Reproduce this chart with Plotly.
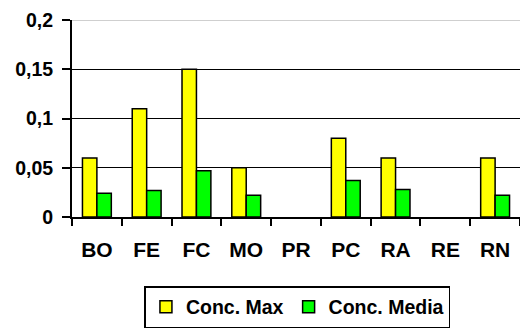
import plotly.graph_objects as go

categories = ["BO", "FE", "FC", "MO", "PR", "PC", "RA", "RE", "RN"]
conc_max = [0.06, 0.11, 0.15, 0.05, None, 0.08, 0.06, None, 0.06]
conc_media = [0.024, 0.027, 0.047, 0.022, None, 0.037, 0.028, None, 0.022]
y_ticks = [0, 0.05, 0.1, 0.15, 0.2]

FONT = "Liberation Sans, Arial, sans-serif"

fig = go.Figure()
fig.add_trace(go.Bar(x=categories, y=conc_max, name="Conc. Max",
                     marker=dict(color="#FFFF00", line=dict(color="black", width=1.5))))
fig.add_trace(go.Bar(x=categories, y=conc_media, name="Conc. Media",
                     marker=dict(color="#00FF00", line=dict(color="black", width=1.5))))

fig.update_layout(
    width=520, height=329,
    margin=dict(l=72, r=0, t=20, b=112),
    paper_bgcolor="white", plot_bgcolor="white",
    separators=",.",
    barmode="group", bargap=0.42, bargroupgap=0,
    font=dict(family=FONT, color="black"),
    showlegend=True,
    legend=dict(orientation="h", xref="container", yref="container",
                x=0.572, xanchor="center", y=1 - 286 / 329, yanchor="top",
                bordercolor="black", borderwidth=1.5, bgcolor="white",
                font=dict(size=19.5, family=FONT, weight="bold"),
                itemwidth=30, tracegroupgap=0),
)
fig.update_xaxes(
    type="category", showline=True, linecolor="black", linewidth=2,
    ticks="outside", ticklen=7, tickwidth=2, tickcolor="black",
    tickson="boundaries", showgrid=False, automargin=False,
    ticklabelstandoff=13,
    tickfont=dict(size=21, family=FONT, weight="bold"),
)
fig.update_yaxes(
    range=[0, 0.2], tickvals=y_ticks, showline=True, linecolor="black", linewidth=2,
    ticks="outside", ticklen=8, tickwidth=2, tickcolor="black",
    showgrid=True, gridcolor="black", gridwidth=1.2, zeroline=False, automargin=False,
    ticklabelstandoff=5,
    tickfont=dict(size=19.5, family=FONT, weight="bold"),
)
fig.add_shape(type="line", xref="paper", yref="y", x0=0, x1=1, y0=y_ticks[-1], y1=y_ticks[-1],
              line=dict(color="#BFBFBF", width=1.5), layer="above")

fig.write_html("out.html", config={"displayModeBar": False},
               post_script="document.body.style.margin='0';document.body.style.overflow='hidden';")
